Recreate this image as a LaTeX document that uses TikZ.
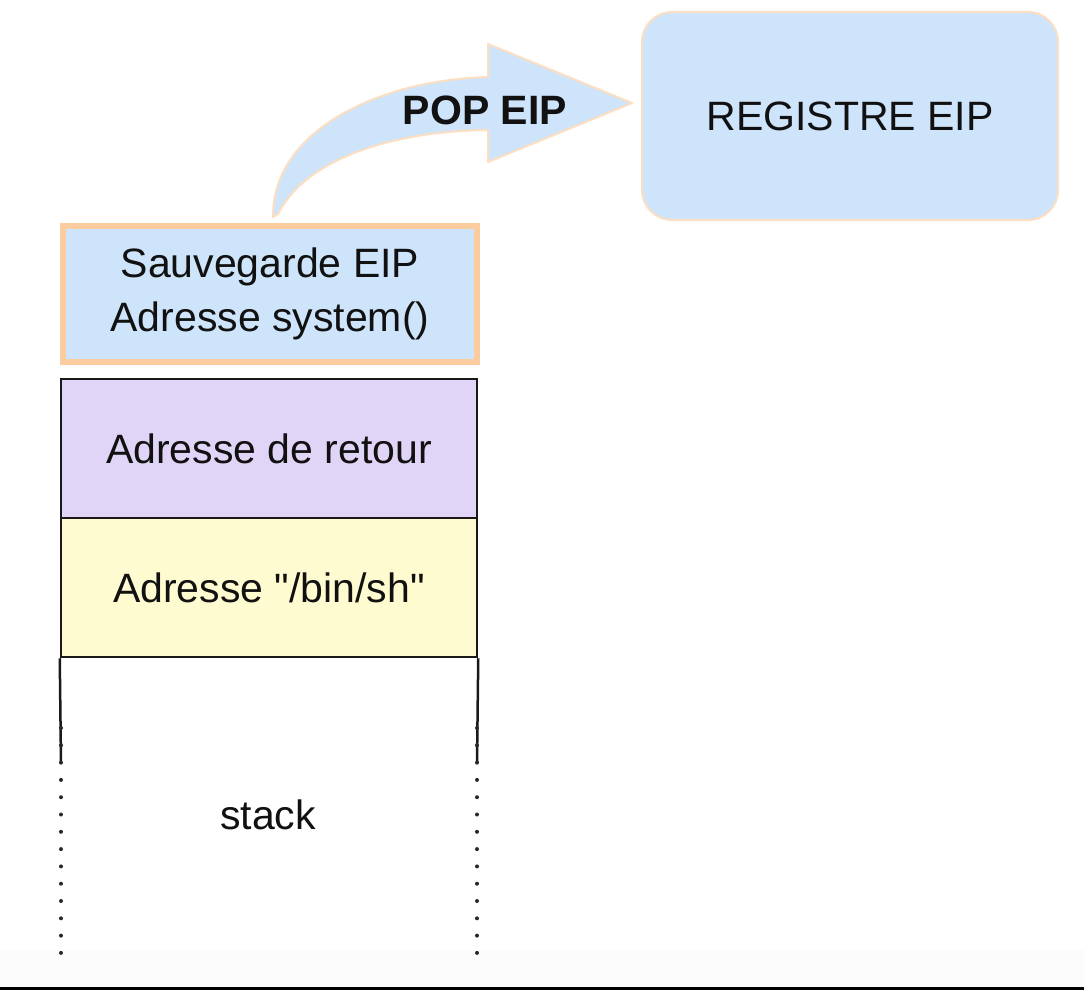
\documentclass[tikz,border=0pt]{standalone}
\usepackage{fontspec}
\setmainfont{Liberation Sans}[Ligatures=TeXOff]
\definecolor{txt}{RGB}{17,17,17}
\definecolor{edge}{RGB}{25,25,25}
\definecolor{dotc}{RGB}{40,40,40}
\definecolor{lightblue}{RGB}{206,228,250}
\definecolor{peachc}{RGB}{250,204,160}
\definecolor{peachlight}{RGB}{252,222,195}
\definecolor{purplec}{RGB}{225,213,247}
\definecolor{yellowc}{RGB}{255,251,208}
\definecolor{greyband}{RGB}{252,252,252}
\begin{document}
\begin{tikzpicture}[x=1pt,y=-1pt,
  lbl/.style={font=\fontsize{41}{54}\selectfont, text=txt, align=center},
  stackbox/.style={lbl, draw=edge, line width=2.5pt, minimum width=416pt, minimum height=139pt, inner sep=0pt},
  bluefill/.style={fill=lightblue},
  peach/.style={draw=peachlight}
]
\useasboundingbox (0,0) rectangle (1084,990);
\fill[white] (0,0) rectangle (1084,990);
\fill[greyband] (0,950) rectangle (1084,987);
\fill[black] (0,987) rectangle (1084,990);

% block arrow
\filldraw[bluefill, peach, line width=2pt, line join=round]
  (273,217) .. controls (272,130) and (380,80) .. (488,77)
  -- (488,44) -- (632,103) -- (488,162) -- (488,130)
  .. controls (390,131) and (305,160) .. (278,214) -- cycle;
\node[lbl, font=\fontsize{41}{54}\selectfont\bfseries] (pop) at (485,110) {POP EIP};

\node[lbl, bluefill, peach, line width=2pt, rounded corners=30pt, minimum width=416pt, minimum height=208pt, inner sep=0pt] (reg) at (850,116) {REGISTRE EIP};

\node[lbl, bluefill, draw=peachc, line width=6pt, minimum width=414pt, minimum height=136pt, inner sep=0pt] (sauve) at (270,294) {Sauvegarde EIP\\Adresse system()};

\node[stackbox, fill=purplec] (ret) at (269,448.5) {Adresse de retour};
\node[stackbox, fill=yellowc] (sh) at (269,587.5) {Adresse "/bin/sh"};

\coordinate (l1) at (61,763);
\coordinate (r1) at (477,763);
\coordinate (l2) at (61,728);
\coordinate (r2) at (477,728);
\coordinate (l3) at (61,955);
\coordinate (r3) at (477,955);
\draw[edge, line width=2.5pt] (sh.south west) -- (l1);
\draw[edge, line width=2.5pt] (sh.south east) -- (r1);
\draw[dotc, line width=4pt, line cap=round, dash pattern=on 0pt off 17.3pt] (l2) -- (l3);
\draw[dotc, line width=4pt, line cap=round, dash pattern=on 0pt off 17.3pt] (r2) -- (r3);
\node[lbl] (stack) at (268,815) {stack};
\end{tikzpicture}
\end{document}
